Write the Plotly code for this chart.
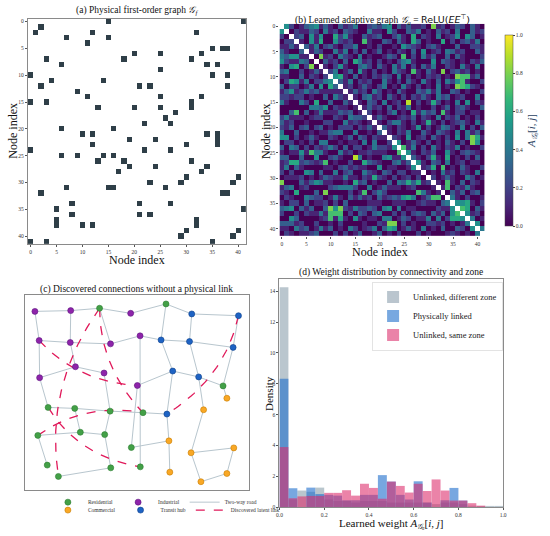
import numpy as np
import plotly.graph_objects as go

SERIF = "Liberation Serif, Times New Roman, serif"
n_nodes = 42
node_ids = list(range(n_nodes))
node_ticks = [0, 5, 10, 15, 20, 25, 30, 35, 40]

# (a) physical first-order graph: dark cells per row (column indices)
physical_links = [
    [15, 41], [2], [1, 12, 32], [7, 15], [11], [35, 37, 38], [20, 25, 33],
    [3, 18, 31], [6, 34, 36], [25], [0, 35, 38], [4, 14], [2, 21, 23, 38],
    [9], [11, 25, 33], [0, 3, 31], [13, 20, 25, 31], [28], [26], [22, 27],
    [6, 16], [10, 12, 34, 36], [19, 24, 36], [12, 30, 36], [0, 22, 27],
    [6, 9, 14, 16], [13, 18, 31], [19, 24, 34], [17, 33], [30, 40],
    [23, 29, 39], [7, 15, 16, 26], [2, 37, 38], [], [8, 21, 27], [5, 41],
    [8, 21, 23], [5, 32], [5, 10, 12, 32], [30, 40], [29, 39], [0, 3, 35],
]

# (b) learned adaptive graph, upper triangle in tenths (symmetric, diagonal blank)
adaptive_rows = [
    ".520134513 1031240023 2450313112 0812013203 10",
    "..02113204 1203210041 1052003240 1031204003 12",
    "...2305150 0625100312 3002410602 1040125053 01",
    "....105160 0521200710 0320310630 1006020231 40",
    ".....31402 3102240010 2001053210 2310003002 21",
    "......1320 0414020301 3010210305 0120431200 31",
    ".......081 2042104010 0132070204 1300303100 02",
    "........03 1203064120 2010245100 0503210102 13",
    ".........1 0251003420 3104140203 1400210410 40",
    ".......... 2401305102 0104210710 3108023120 10",
    ".......... .561030102 1320402010 2120108771 30",
    ".......... ..31402120 0410203104 1030425710 02",
    ".......... ...1201310 2401041020 1040108762 10",
    ".......... ....131204 2010310032 4140032010 02",
    ".......... .....10341 2031020213 1042301200 40",
    ".......... ......1032 0401209020 1620104050 21",
    ".......... .......131 2030214010 0201302310 03",
    ".......... ........20 1024010614 2307102201 10",
    ".......... .........1 3100121302 1040213010 20",
    ".......... .......... 1024410201 6102012310 41",
    ".......... .......... .310210150 2014310402 03",
    ".......... .......... ..10214003 1032104041 30",
    ".......... .......... ...2105012 0310205048 61",
    ".......... .......... ....501310 2010310208 50",
    ".......... .......... .....71402 0410214010 02",
    ".......... .......... ......5102 1300510232 10",
    ".......... .......... .......310 2610601020 30",
    ".......... .......... ........51 0320401201 10",
    ".......... .......... .........1 2607010310 02",
    ".......... .......... .......... 0104120210 40",
    ".......... .......... .......... .201310042 01",
    ".......... .......... .......... ..10710302 10",
    ".......... .......... .......... ...1702141 00",
    ".......... .......... .......... ....031302 30",
    ".......... .......... .......... .....41020 01",
    ".......... .......... .......... ......5561 02",
    ".......... .......... .......... .......760 31",
    ".......... .......... .......... ........51 20",
    ".......... .......... .......... .........4 01",
    ".......... .......... .......... .......... 50",
    ".......... .......... .......... .......... .4",
    ".......... .......... .......... .......... ..",
]

# (c) city layout: node positions and zones
node_x = [0.44, 2.04, 4.72, 0.63, 2.02, 3.82, 5.14, 2.25, 3.53, 0.65, 5.02,
          3.33, 6.30, 8.85, 1.03, 2.22, 3.80, 5.27, 2.47, 3.56, 0.57, 4.75, 0.99, 3.83, 5.15, 1.49,
          7.45, 9.54, 6.08, 7.35, 9.30, 6.60, 7.76, 6.34,
          9.02, 7.98, 6.43, 9.33, 7.42, 6.47, 9.02, 7.86]
node_y = [9.15, 9.19, 9.05, 7.66, 7.56, 7.49, 7.90, 6.32, 6.00, 5.76, 5.36,
          9.31, 9.53, 5.34, 4.24, 4.19, 4.05, 3.97, 2.97, 2.85, 2.81, 2.19, 1.29, 1.15, 1.20, 0.71,
          9.02, 8.93, 7.69, 7.61, 7.31, 6.10, 5.80, 3.90,
          4.71, 4.12, 2.53, 2.17, 1.92, 0.93, 0.86, 0.44]
node_zone = (["Industrial"] * 11 + ["Residential"] * 15
             + ["Transit hub"] * 8 + ["Commercial"] * 8)
roads = [(0, 1), (1, 11), (11, 2), (2, 12), (12, 26), (26, 27), (0, 3), (1, 4),
         (11, 5), (12, 28), (26, 29), (27, 30), (3, 4), (4, 5), (5, 6), (6, 28),
         (28, 29), (29, 30), (3, 9), (4, 7), (9, 7), (7, 8), (8, 16), (6, 24),
         (10, 21), (10, 31), (28, 31), (31, 32), (29, 32), (32, 13), (30, 13),
         (13, 34), (31, 33), (33, 17), (33, 36), (32, 35), (35, 38), (38, 37),
         (37, 40), (40, 41), (41, 38), (36, 39), (36, 21), (14, 9), (14, 15),
         (15, 16), (16, 17), (15, 18), (20, 18), (18, 19), (16, 19), (20, 22),
         (19, 23), (23, 25)]
latent_links = [(3, 10), (11, 25), (11, 17), (27, 33), (20, 17), (14, 24)]
latent_bend = [-0.11, -0.09, -0.09, 0.10, 0.12, -0.12]

# (d) weight histogram: density per bin of width 0.04
bin_left = [0.00, 0.04, 0.08, 0.12, 0.16, 0.20, 0.24, 0.28, 0.32, 0.36, 0.40, 0.44,
            0.48, 0.52, 0.56, 0.60, 0.64, 0.68, 0.72, 0.76, 0.80, 0.84, 0.88, 0.92, 0.96]
dens_diff_zone = [14.26, 0.5, 1.08, 1.0, 1.27, 0.5, 0.4, 0.4, 0.3, 0.4, 0.4, 0.4, 0.3,
                  0.3, 0.3, 0.3, 0.3, 0.2, 0.3, 0.3, 0.2, 0.1, 0.05, 0.05, 0.05]
dens_linked = [8.33, 1.23, 0.0, 1.27, 0.85, 0.8, 0.75, 0.45, 0.45, 0.8, 0.8, 2.08, 1.66,
               0.8, 0.5, 1.68, 0.3, 0.0, 0.45, 1.25, 0.43, 0.0, 0.0, 0.0, 0.0]
dens_same_zone = [3.9, 0.58, 0.7, 0.73, 0.73, 0.93, 0.93, 1.1, 0.75, 1.52, 1.25, 0.55,
                  1.66, 1.38, 0.95, 1.52, 1.05, 1.8, 1.08, 0.43, 0.43, 0.26, 0.1, 0.0, 0.0]

zone_colors = {"Residential": "#43a047", "Commercial": "#f9a825",
               "Industrial": "#8e24aa", "Transit hub": "#1e63c4"}
zone_lines = {"Residential": "#2e7d32", "Commercial": "#c77c00",
              "Industrial": "#5e1580", "Transit hub": "#0d3f8a"}

tick_font = dict(family=SERIF, size=5.5, color="#333")
title_font = dict(family=SERIF, size=9.5, color="#111")
A_GA = "<i>A</i><sub><i>𝒢ₐ</i></sub>[<i>i</i>, <i>j</i>]"

fig = go.Figure()

# (a)
phys = np.zeros((n_nodes, n_nodes))
for i, cols in enumerate(physical_links):
    phys[i, cols] = 1
fig.add_trace(go.Heatmap(z=phys, x=node_ids, y=node_ids, showscale=False,
                         colorscale=[[0, "white"], [1, "#2f3f48"]],
                         xaxis="x", yaxis="y", hoverinfo="skip"))

# (b)
adj = np.full((n_nodes, n_nodes), np.nan)
for i, row in enumerate(adaptive_rows):
    s = row.replace(" ", "")
    for j in range(i + 1, n_nodes):
        adj[i, j] = adj[j, i] = int(s[j]) / 10
fig.add_trace(go.Heatmap(
    z=adj, x=node_ids, y=node_ids, colorscale="Viridis", zmin=0, zmax=1,
    xaxis="x2", yaxis="y2", hoverinfo="skip",
    colorbar=dict(x=0.9327, xanchor="left", y=0.7565, yanchor="middle",
                  len=0.397, lenmode="fraction", thickness=8, outlinewidth=0.5,
                  tickvals=[0, 0.2, 0.4, 0.6, 0.8, 1.0],
                  ticktext=["0.0", "0.2", "0.4", "0.6", "0.8", "1.0"],
                  ticks="outside", ticklen=2, tickfont=tick_font,
                  title=dict(text=A_GA, side="right", font=dict(family=SERIF, size=11)))))

# (c) roads
rx, ry = [], []
for a, b in roads:
    rx += [node_x[a], node_x[b], None]
    ry += [node_y[a], node_y[b], None]
fig.add_trace(go.Scatter(x=rx, y=ry, mode="lines", name="Two-way road",
                         line=dict(color="#b8c6ce", width=1), xaxis="x3", yaxis="y3",
                         legend="legend2", legendrank=3, hoverinfo="skip"))

# (c) latent links drawn as bent curves between their end nodes
lx, ly = [], []
t = np.linspace(0, 1, 40)
for (a, b), bend in zip(latent_links, latent_bend):
    p0 = np.array([node_x[a], node_y[a]])
    p2 = np.array([node_x[b], node_y[b]])
    d = p2 - p0
    ctrl = (p0 + p2) / 2 + 2 * bend * np.array([-d[1], d[0]])
    curve = ((1 - t)[:, None] ** 2 * p0 + 2 * ((1 - t) * t)[:, None] * ctrl
             + (t ** 2)[:, None] * p2)
    lx += list(curve[:, 0]) + [None]
    ly += list(curve[:, 1]) + [None]
fig.add_trace(go.Scatter(x=lx, y=ly, mode="lines", name="Discovered latent link",
                         line=dict(color="#e0195a", width=1.3, dash="dash"),
                         xaxis="x3", yaxis="y3", legend="legend3", legendrank=3,
                         hoverinfo="skip"))

# (c) nodes
legend_slot = {"Residential": ("legend2", 1), "Industrial": ("legend2", 2),
               "Commercial": ("legend3", 1), "Transit hub": ("legend3", 2)}
for zone in ["Residential", "Commercial", "Industrial", "Transit hub"]:
    idx = [k for k, z in enumerate(node_zone) if z == zone]
    lg, rank = legend_slot[zone]
    fig.add_trace(go.Scatter(
        x=[node_x[k] for k in idx], y=[node_y[k] for k in idx], mode="markers",
        name=zone, legend=lg, legendrank=rank, xaxis="x3", yaxis="y3",
        marker=dict(size=6, color=zone_colors[zone],
                    line=dict(color=zone_lines[zone], width=0.6))))

# (d) histograms
bin_mid = [b + 0.02 for b in bin_left]
for name, dens, color, op in [
        ("Unlinked, different zone", dens_diff_zone, "#aebcc6", 0.85),
        ("Physically linked", dens_linked, "#1f6fcc", 0.6),
        ("Unlinked, same zone", dens_same_zone, "#dc2a6a", 0.58)]:
    fig.add_trace(go.Bar(x=bin_mid, y=dens, width=0.04, name=name,
                         marker=dict(color=color, line=dict(width=0)), opacity=op,
                         xaxis="x4", yaxis="y4", legend="legend"))

frame = dict(showline=True, mirror=True, linecolor="#8a8a8a", linewidth=1,
             showgrid=False, zeroline=False)
idx_axis = dict(range=[-0.5, 41.5], tickvals=node_ticks, ticks="outside", ticklen=2,
                tickwidth=0.6, tickcolor="#555", tickfont=tick_font,
                showgrid=False, zeroline=False)

small_legend = dict(orientation="h", x=0.085, xanchor="left", yanchor="middle",
                    font=dict(family=SERIF, size=5.5, color="#333"),
                    itemwidth=30, bgcolor="rgba(0,0,0,0)")

fig.update_layout(
    width=550, height=536, margin=dict(l=0, r=0, t=0, b=0),
    paper_bgcolor="white", plot_bgcolor="white", barmode="overlay",
    font=dict(family=SERIF),
    xaxis=dict(idx_axis, **frame, domain=[0.0473, 0.46], anchor="y"),
    yaxis=dict(idx_axis, **frame, domain=[0.5429, 0.9664], anchor="x",
               range=[41.5, -0.5]),
    xaxis2=dict(idx_axis, domain=[0.5236, 0.9127], anchor="y2"),
    yaxis2=dict(idx_axis, domain=[0.5578, 0.9571], anchor="x2", range=[41.5, -0.5]),
    xaxis3=dict(frame, domain=[0.0418, 0.4655], anchor="y3", range=[0, 10],
                showticklabels=False, ticks=""),
    yaxis3=dict(frame, domain=[0.0802, 0.4478], anchor="x3", range=[0, 10],
                showticklabels=False, ticks=""),
    xaxis4=dict(frame, domain=[0.5236, 0.9473], anchor="y4", range=[0, 1],
                tickvals=[0, 0.2, 0.4, 0.6, 0.8, 1.0],
                ticktext=["0.0", "0.2", "0.4", "0.6", "0.8", "1.0"],
                ticks="outside", ticklen=2, tickcolor="#555", tickfont=tick_font),
    yaxis4=dict(frame, domain=[0.0485, 0.4776], anchor="x4", range=[0, 14.8],
                tickvals=[0, 2, 4, 6, 8, 10, 12, 14], ticks="outside", ticklen=2,
                tickcolor="#555", tickfont=tick_font),
    legend=dict(x=0.946, xanchor="right", y=0.472, yanchor="top",
                bgcolor="rgba(255,255,255,0.85)", bordercolor="#d0d0d0", borderwidth=0.6,
                font=dict(family=SERIF, size=8.5, color="#222"), tracegroupgap=0,
                itemwidth=30),
    legend2=dict(small_legend, y=0.058),
    legend3=dict(small_legend, y=0.043),
)

# panel titles and axis titles
label_font = dict(family=SERIF, size=12, color="#111")
titles = [
    ("(a) Physical first-order graph <i>𝒢<sub>f</sub></i>", 0.2536, 0.982, 0, title_font),
    ("(b) Learned adaptive graph <i>𝒢<sub>a</sub></i> = "
     "<span style='font-family:DejaVu Sans'>ReLU(<i>EE</i><sup>⊤</sup>)</span>",
     0.7182, 0.966, 0, title_font),
    ("(c) Discovered connections without a physical link", 0.2536, 0.4576, 0, title_font),
    ("(d) Weight distribution by connectivity and zone", 0.7355, 0.4888, 0, title_font),
    ("Node index", 0.2545, 1 - 261 / 536, 0, label_font),
    ("Node index", 0.0182, 1 - 131 / 536, -90, label_font),
    ("Node index", 0.7145, 1 - 253 / 536, 0, label_font),
    ("Node index", 0.4982, 1 - 131 / 536, -90, label_font),
    ("Learned weight " + A_GA, 0.7345, 1 - 527 / 536, 0, dict(family=SERIF, size=11, color="#111")),
    ("Density", 0.5036, 1 - 395 / 536, -90, dict(family=SERIF, size=11, color="#111")),
]
for text, x, y, angle, font in titles:
    fig.add_annotation(text=text, x=x, y=y, xref="paper", yref="paper", showarrow=False,
                       xanchor="center", yanchor="middle", textangle=angle, font=font)

# the page's default body margin would shift the figure by 8 px
fig.write_html("out.html", config={"displayModeBar": False},
               post_script="document.body.style.margin = '0px';")
